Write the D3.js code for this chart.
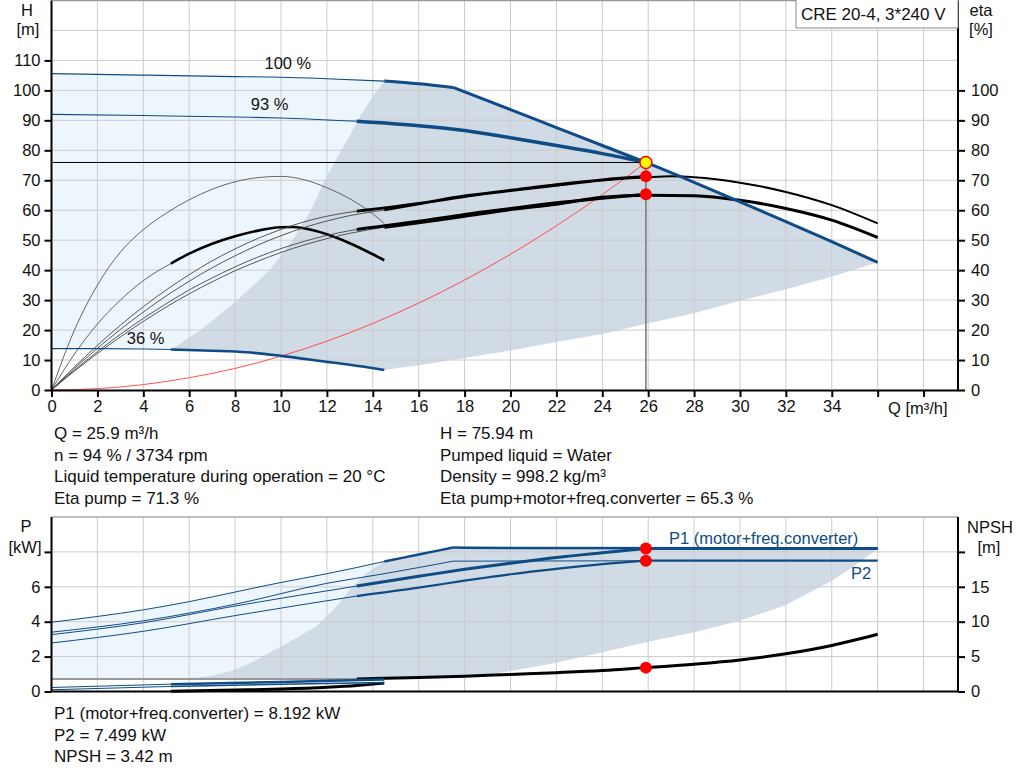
<!DOCTYPE html>
<html>
<head>
<meta charset="utf-8">
<title>CRE 20-4 pump curves</title>
<script src="https://cdn.jsdelivr.net/npm/d3@7"></script>
<style>
  body { margin: 0; background: #fff; }
  svg text { font-family: Arial, 'Liberation Sans', sans-serif; font-size: 16.5px; fill: #111; }
  svg text.info { font-size: 17px; }
  .grid line { stroke: #cccccc; stroke-width: 1; }
  .axis path, .axis line { stroke: #000; stroke-width: 2; }
  .axis text { font-size: 16.5px; }
</style>
</head>
<body>
<svg id="chart" width="1024" height="781"></svg>
<script>
// ---- data (Q in m3/h) ----
const qGrid = d3.range(0, 39, 2);
const qLabels = d3.range(0, 35, 2);
const hTicks = d3.range(0, 111, 10);
const etaTicks = d3.range(0, 101, 10);
const pTicks = [0, 2, 4, 6, 8];
const npshTicks = [0, 5, 10, 15, 20];

// head curves
const head100Thin = [[0,105.6],[4,105.1],[8,104.6],[10,104.4],[12,103.9],[14.5,103.1]];
const head100Flat = [[14.5,103.1],[16,102.2],[17.5,101]];
const head100Limit = [[17.5,101],[20,93.6],[22,87.6],[24,81.6],[25.9,75.94],[28,69.3],[30,62.8],[32,56.2],[34,49.5],[36,42.6]];
const head93Thin = [[0,92],[4,91.6],[8,91.1],[10,90.8],[13.3,89.7]];
const head93Thick = [[13.3,89.7],[16,88.2],[18,86.6],[20,84.2],[22,81.6],[24,78.9],[25.9,75.94]];
const head36Thin = [[0,13.8],[2,13.8],[4,13.7],[5.2,13.5]];
const head36Thick = [[5.2,13.5],[7,13.1],[8.5,12.6],[10,11.4],[12,9.4],[13,8.4],[14.5,6.7]];
const systemCurve = [[0,0],[2,0.45],[4,1.8],[6,4.1],[8,7.2],[10,11.3],[12,16.3],[14,22.2],[16,29],[18,36.7],[20,45.3],[22,54.8],[24,65.2],[25.9,75.94]];

// operating range borders (H)
const rangeLeft = [[5.2,13.5],[6.5,20],[8.1,30],[9.5,40],[10.5,50],[11.3,60],[11.9,70],[12.4,77],[13.0,85],[13.5,92],[14.0,98],[14.5,103.1]];
const rangeBottom = [[14.5,6.7],[16,8.3],[18,10.7],[20,13.2],[22,16],[24,18.7],[26,22.3],[28,25.6],[30,29.8],[32,33.6],[34,37.8],[36,42.6]];

// efficiency curves
const etaPump36 = [[0,0],[1,20],[2,35],[3,46],[4,53.5],[5,59],[6,63.5],[7,67],[8,69.5],[9,70.9],[10,71.3],[11,70.2],[12,67.5],[13,63.8],[14,58.8],[14.5,55.6]];
const etaTot36Thin = [[0,0],[1,12],[2,22],[3,30],[4,36.5],[5.2,42.2]];
const etaTot36Thick = [[5.2,42.2],[6,45.5],[7,48.8],[8,51.3],[9,53.2],[10,54.3],[10.5,54.4],[11,54],[12,52],[13,49],[14,45.3],[14.5,43.3]];
const etaPump94Thin = [[0,0],[1,7.7],[2,14.9],[3,21.6],[4,27.8],[5,33.4],[6,38.5],[7,43.1],[8,47.1],[9,50.6],[10,53.6],[11,56.1],[12,58],[13.3,59.7]];
const etaPump94Thick = [[13.3,59.7],[16,62.3],[18,64.8],[20,66.7],[22,68.6],[24,70.2],[25.9,71.3]];
const etaPump100Thin = [[0,0],[1,7.2],[2,13.9],[3,20.2],[4,26],[5,31.4],[6,36.3],[7,40.8],[8,44.8],[9,48.4],[10,51.5],[11,54.2],[12,56.4],[13,58.2],[14.5,60]];
const etaPump100Thick = [[14.5,60],[16,62],[18,64.4],[20,66.4],[22,68.2],[24,69.9],[26,71],[27,71.3],[28,71],[30,69.2],[32,66.1],[34,61.7],[36,55.6]];
const etaTot94Thin = [[0,0],[1,6.6],[2,12.8],[3,18.6],[4,23.9],[5,28.8],[6,33.4],[7,37.4],[8,41.1],[9,44.4],[10,47.2],[11,49.6],[12,51.6],[13.3,53.6]];
const etaTot94Thick = [[13.3,53.6],[16,56.3],[18,58.6],[20,60.6],[22,62.5],[24,64],[25.9,65.3]];
const etaTot100Thin = [[0,0],[1,6.3],[2,12.2],[3,17.7],[4,22.9],[5,27.7],[6,32.1],[7,36.1],[8,39.8],[9,43],[10,45.9],[11,48.4],[12,50.5],[13,52.3],[14.5,54.3]];
const etaTot100Thick = [[14.5,54.3],[16,55.8],[18,58],[20,60.2],[22,62],[24,64.3],[26,65],[28,64.8],[30,63.3],[32,60.6],[34,56.7],[36,50.9]];

// power curves (kW)
const p1Max = [[0,3.97],[2,4.3],[4,4.68],[6,5.15],[8,5.7],[10,6.25],[12,6.75],[14.5,7.45]];
const p1MaxRise = [[14.5,7.45],[16,7.85],[17.5,8.25]];
const p1MaxFlat = [[17.5,8.25],[20,8.22],[36,8.2]];
const p2Max = [[0,3.4],[4,4.05],[8,5.0],[12,6.2],[14.5,6.75],[17.5,7.47]];
const p2MaxFlat = [[17.5,7.47],[25.9,7.49]];
const p1DutyThin = [[0,3.26],[4,3.94],[8,4.9],[13.3,6.04]];
const p1DutyThick = [[13.3,6.04],[16,6.6],[18,7.0],[20,7.35],[22,7.68],[24,7.95],[25.9,8.192]];
const p1DutyFlat = [[25.9,8.192],[36,8.192]];
const p2DutyThin = [[0,2.78],[4,3.45],[8,4.35],[13.3,5.47]];
const p2DutyThick = [[13.3,5.47],[16,5.95],[18,6.35],[20,6.72],[22,7.03],[24,7.3],[25.9,7.499]];
const p2DutyFlat = [[25.9,7.499],[36,7.499]];
const p1MinThin = [[0,0.23],[5.2,0.42]];
const p1MinThick = [[5.2,0.42],[10,0.55],[14.5,0.69]];
const p2MinThin = [[0,0.1],[5.2,0.29]];
const p2MinThick = [[5.2,0.29],[10,0.42],[14.5,0.52]];
const pRangeLeft = [[5.8,0.71],[7,0.9],[7.9,1.2],[8.8,1.7],[9.6,2.3],[10.3,2.8],[11.5,3.7],[12.3,4.7],[13,5.85],[13.75,6.8],[14.5,7.45]];
const pRangeBottom = [[13.3,0.71],[15,0.75],[17,0.85],[19.5,1.06],[22,1.65],[24,2.25],[26,2.85],[28,3.4],[30,4.05],[32,4.95],[34,6.35],[35,7.2],[36,8.2]];
const pLightBottom = 0.71;

// NPSH (m)
const npshThin = [[0,1.78],[13.3,1.78]];
const npshDuty = [[13.3,1.78],[14,1.85],[16,2.0],[18,2.2],[20,2.45],[22,2.7],[24,3.0],[25.9,3.42],[28,3.9],[30,4.5],[32,5.4],[34,6.6],[36,8.2]];
const npshMin = [[5.2,0.05],[8,0.2],[10,0.35],[12,0.6],[13.3,0.85],[14.5,1.2]];

// duty point
const dutyQ = 25.9, dutyH = 75.94, dutyEtaPump = 71.3, dutyEtaTot = 65.3;
const dutyP1 = 8.192, dutyP2 = 7.499, dutyNpsh = 3.42;

const infoLeft = ["Q = 25.9 m\u00b3/h", "n = 94 % / 3734 rpm", "Liquid temperature during operation = 20 \u00b0C", "Eta pump = 71.3 %"];
const infoRight = ["H = 75.94 m", "Pumped liquid = Water", "Density = 998.2 kg/m\u00b3", "Eta pump+motor+freq.converter = 65.3 %"];
const infoBottom = ["P1 (motor+freq.converter) = 8.192 kW", "P2 = 7.499 kW", "NPSH = 3.42 m"];

// ---- scales ----
const svg = d3.select("#chart");
const x = d3.scaleLinear().domain([0, 39.5]).range([51.5, 958]);
const yH = d3.scaleLinear().domain([0, 130]).range([390, 0.5]);
const yEta = d3.scaleLinear().domain([0, 130]).range([390, 0.5]);
const yP = d3.scaleLinear().domain([0, 10]).range([691.5, 517]);
const yN = d3.scaleLinear().domain([0, 25]).range([691.5, 517]);

const BLUE = "#0f4c85";
const LIGHT = "#eef6fd";
const DARK = "#d0dbe6";

function line(ys, curve) {
  return d3.line().x(d => x(d[0])).y(d => ys(d[1])).curve(curve || d3.curveMonotoneX);
}
function draw(g, data, ys, color, width) {
  g.append("path").attr("d", line(ys)(data))
    .attr("fill", "none").attr("stroke", color).attr("stroke-width", width)
    .attr("stroke-linejoin", "round");
}
function poly(g, pts, ys, fill) {
  g.append("path").attr("d", line(ys, d3.curveLinear)(pts) + "Z").attr("fill", fill);
}

// ================= TOP CHART =================
const topG = svg.append("g");
const head100Thick = head100Flat.concat(head100Limit.slice(1));

// light blue: area left of operating range
poly(topG, head100Thin.concat(rangeLeft.slice().reverse(), head36Thin.slice().reverse()), yH, LIGHT);
// operating range
poly(topG, head36Thick.concat(rangeBottom.slice(1), head100Thick.slice().reverse().slice(1), rangeLeft.slice().reverse().slice(1)), yH, DARK);

// grid
const gTop = topG.append("g").attr("class", "grid");
gTop.selectAll(".v").data(qGrid.slice(1)).join("line")
  .attr("x1", d => x(d)).attr("x2", d => x(d)).attr("y1", yH(0)).attr("y2", yH(130));
gTop.selectAll(".h").data(d3.range(10, 121, 10)).join("line")
  .attr("x1", x(0)).attr("x2", x(39.5)).attr("y1", d => yH(d)).attr("y2", d => yH(d));
topG.append("line").attr("x1", x(0)).attr("x2", x(39.5)).attr("y1", yH(130)).attr("y2", yH(130))
  .attr("stroke", "#999").attr("stroke-width", 1.5);

// system curve
draw(topG, systemCurve, yH, "#ff4040", 0.9);

// efficiency curves
draw(topG, etaPump36, yEta, "#555", 0.9);
draw(topG, etaTot36Thin, yEta, "#555", 0.9);
draw(topG, etaTot36Thick, yEta, "#000", 2.6);
draw(topG, etaPump94Thin, yEta, "#444", 0.9);
draw(topG, etaPump100Thin, yEta, "#444", 0.9);
draw(topG, etaTot94Thin, yEta, "#444", 0.9);
draw(topG, etaTot100Thin, yEta, "#444", 0.9);
draw(topG, etaPump100Thick, yEta, "#000", 2);
draw(topG, etaPump94Thick, yEta, "#000", 2.6);
draw(topG, etaTot100Thick, yEta, "#000", 3);
draw(topG, etaTot94Thick, yEta, "#000", 3);

// head curves
draw(topG, head100Thin, yH, BLUE, 1.1);
draw(topG, head93Thin, yH, BLUE, 1.1);
draw(topG, head36Thin, yH, BLUE, 1.1);
draw(topG, head100Flat, yH, BLUE, 3);
draw(topG, head100Limit, yH, BLUE, 3);
draw(topG, head93Thick, yH, BLUE, 3.5);
draw(topG, head36Thick, yH, BLUE, 2.6);

// speed labels
topG.append("text").attr("x", x(10.3)).attr("y", yH(107)).attr("text-anchor", "middle").text("100 %");
topG.append("text").attr("x", x(9.5)).attr("y", yH(93.5)).attr("text-anchor", "middle").text("93 %");
topG.append("text").attr("x", x(4.1)).attr("y", yH(15.5)).attr("text-anchor", "middle").text("36 %");

// duty lines
topG.append("line").attr("x1", x(dutyQ)).attr("x2", x(dutyQ)).attr("y1", yH(dutyH)).attr("y2", yH(0))
  .attr("stroke", "#777").attr("stroke-width", 1.5);

// axes
topG.append("g").attr("class", "axis").attr("transform", `translate(${x(0)},0)`)
  .call(d3.axisLeft(yH).tickValues(hTicks).tickSize(7).tickPadding(4).tickSizeOuter(0))
  .call(g => g.select(".domain").attr("d", `M0,${yH(0)}V${yH(130)}`));
topG.append("g").attr("class", "axis").attr("transform", `translate(${x(39.5)},0)`)
  .call(d3.axisRight(yEta).tickValues(etaTicks).tickSize(7).tickPadding(6).tickSizeOuter(0))
  .call(g => g.select(".domain").attr("d", `M0,${yH(0)}V${yH(130)}`));
topG.append("g").attr("class", "axis").attr("transform", `translate(0,${yH(0)})`)
  .call(d3.axisBottom(x).tickValues(qGrid).tickSize(7).tickPadding(3).tickSizeOuter(0)
    .tickFormat(d => qLabels.includes(d) ? d : ""));

topG.append("text").attr("x", 888).attr("y", 414).text("Q [m\u00b3/h]");
topG.append("text").attr("x", 27).attr("y", 16).attr("text-anchor", "middle").text("H");
topG.append("text").attr("x", 28).attr("y", 35).attr("text-anchor", "middle").text("[m]");
topG.append("text").attr("x", 981).attr("y", 16).attr("text-anchor", "middle").text("eta");
topG.append("text").attr("x", 981).attr("y", 35).attr("text-anchor", "middle").text("[%]");

// model box
topG.append("rect").attr("x", 796).attr("y", -1).attr("width", 162).attr("height", 29)
  .attr("fill", "#fff").attr("stroke", "#888");
topG.append("text").attr("class", "info").attr("x", 801).attr("y", 20).text("CRE 20-4, 3*240 V");

// duty markers
topG.append("line").attr("x1", x(0) + 1).attr("x2", x(dutyQ)).attr("y1", yH(dutyH)).attr("y2", yH(dutyH))
  .attr("stroke", "#000").attr("stroke-width", 1);
topG.append("circle").attr("cx", x(dutyQ)).attr("cy", yEta(dutyEtaPump)).attr("r", 6).attr("fill", "#ff0000");
topG.append("circle").attr("cx", x(dutyQ)).attr("cy", yEta(dutyEtaTot)).attr("r", 6).attr("fill", "#ff0000");
topG.append("circle").attr("cx", x(dutyQ)).attr("cy", yH(dutyH)).attr("r", 6)
  .attr("fill", "#ffff00").attr("stroke", "#ff0000").attr("stroke-width", 1.5);

// info text
infoLeft.forEach((t, i) => topG.append("text").attr("class", "info").attr("x", 54).attr("y", 439 + i * 21.7).text(t));
infoRight.forEach((t, i) => topG.append("text").attr("class", "info").attr("x", 440).attr("y", 439 + i * 21.7).text(t));

// ================= BOTTOM CHART =================
const botG = svg.append("g");

poly(botG, p1Max.concat([[14.5, pLightBottom], [0, pLightBottom]]), yP, LIGHT);
poly(botG, pRangeLeft.concat(p1MaxRise.slice(1), p1MaxFlat.slice(1), pRangeBottom.slice().reverse().slice(1)), yP, DARK);

const gBot = botG.append("g").attr("class", "grid");
gBot.selectAll(".v").data(qGrid.slice(1)).join("line")
  .attr("x1", d => x(d)).attr("x2", d => x(d)).attr("y1", yP(0)).attr("y2", yP(10));
gBot.selectAll(".h").data([2, 4, 6, 8]).join("line")
  .attr("x1", x(0)).attr("x2", x(39.5)).attr("y1", d => yP(d)).attr("y2", d => yP(d));
botG.append("line").attr("x1", x(0)).attr("x2", x(39.5)).attr("y1", yP(10)).attr("y2", yP(10))
  .attr("stroke", "#aaa").attr("stroke-width", 1.5);

// NPSH
draw(botG, npshThin, yN, "#999", 2);
draw(botG, npshMin, yN, "#000", 3);
draw(botG, npshDuty, yN, "#000", 3);

// power curves
draw(botG, p1Max, yP, BLUE, 1);
draw(botG, p2Max, yP, BLUE, 1);
draw(botG, p2MaxFlat, yP, BLUE, 1);
draw(botG, p1DutyThin, yP, BLUE, 1);
draw(botG, p2DutyThin, yP, BLUE, 1);
draw(botG, p1MinThin, yP, BLUE, 1);
draw(botG, p2MinThin, yP, BLUE, 1);
draw(botG, p1MinThick, yP, BLUE, 2.5);
draw(botG, p2MinThick, yP, BLUE, 1.5);
draw(botG, p1MaxRise, yP, BLUE, 2.5);
draw(botG, p1MaxFlat, yP, BLUE, 2.5);
draw(botG, p1DutyThick, yP, BLUE, 3);
draw(botG, p1DutyFlat, yP, BLUE, 3);
draw(botG, p2DutyThick, yP, BLUE, 2.2);
draw(botG, p2DutyFlat, yP, BLUE, 2.2);

botG.append("text").attr("x", 669).attr("y", 544).style("fill", BLUE).text("P1 (motor+freq.converter)");
botG.append("text").attr("x", 851).attr("y", 579).style("fill", BLUE).text("P2");

// axes
botG.append("g").attr("class", "axis").attr("transform", `translate(${x(0)},0)`)
  .call(d3.axisLeft(yP).tickValues(pTicks).tickSize(7).tickPadding(4).tickSizeOuter(0)
    .tickFormat(d => d === 8 ? "" : d))
  .call(g => g.select(".domain").attr("d", `M0,${yP(0)}V${yP(10)}`));
botG.append("g").attr("class", "axis").attr("transform", `translate(${x(39.5)},0)`)
  .call(d3.axisRight(yN).tickValues(npshTicks).tickSize(7).tickPadding(6).tickSizeOuter(0)
    .tickFormat(d => d === 20 ? "" : d))
  .call(g => g.select(".domain").attr("d", `M0,${yN(0)}V${yN(25)}`));
botG.append("line").attr("x1", x(0)).attr("x2", x(39.5)).attr("y1", yP(0)).attr("y2", yP(0))
  .attr("stroke", "#000").attr("stroke-width", 2);

botG.append("text").attr("x", 26).attr("y", 532).attr("text-anchor", "middle").text("P");
botG.append("text").attr("x", 25).attr("y", 553).attr("text-anchor", "middle").text("[kW]");
botG.append("text").attr("x", 990).attr("y", 533).attr("text-anchor", "middle").text("NPSH");
botG.append("text").attr("x", 989).attr("y", 553).attr("text-anchor", "middle").text("[m]");

botG.append("circle").attr("cx", x(dutyQ)).attr("cy", yP(dutyP1)).attr("r", 6).attr("fill", "#ff0000");
botG.append("circle").attr("cx", x(dutyQ)).attr("cy", yP(dutyP2)).attr("r", 6).attr("fill", "#ff0000");
botG.append("circle").attr("cx", x(dutyQ)).attr("cy", yN(dutyNpsh)).attr("r", 6).attr("fill", "#ff0000");

infoBottom.forEach((t, i) => botG.append("text").attr("class", "info").attr("x", 54).attr("y", 719 + i * 21.5).text(t));
</script>
</body>
</html>
